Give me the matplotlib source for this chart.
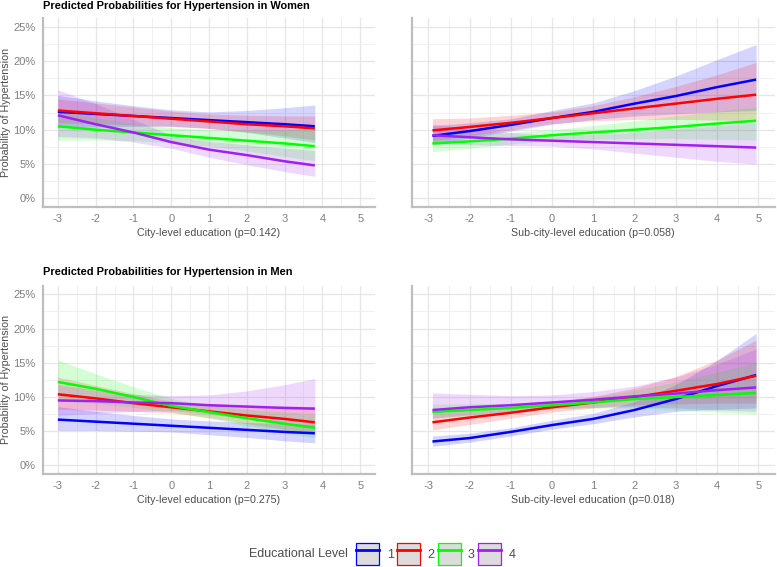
import numpy as np
import matplotlib.pyplot as plt
from matplotlib.patches import Patch
from matplotlib.lines import Line2D
from matplotlib.ticker import MultipleLocator, FuncFormatter
from matplotlib.offsetbox import HPacker

plt.rcParams['font.family'] = ['Liberation Sans', 'DejaVu Sans']

# Eixos x das curvas
x_city = [-3, -2, -1, 0, 1, 2, 3, 3.8]
x_sub = [-2.9, -2, -1, 0, 1, 2, 3, 4, 4.95]

levels = ['1', '2', '3', '4']
colors = ['#0000FF', '#FF0000', '#00FF00', '#A020F0']

# Mulheres - educação da cidade (%)
w_city_fit = [
    [12.6, 12.3, 12.0, 11.7, 11.4, 11.1, 10.8, 10.5],
    [12.8, 12.4, 12.0, 11.6, 11.2, 10.8, 10.5, 10.2],
    [10.5, 10.0, 9.6, 9.2, 8.8, 8.4, 8.0, 7.6],
    [12.1, 10.8, 9.6, 8.2, 7.1, 6.3, 5.4, 4.8],
]
w_city_lo = [
    [10.3, 10.4, 10.5, 10.5, 10.2, 9.6, 8.8, 8.1],
    [11.0, 10.9, 10.7, 10.5, 10.2, 9.7, 9.1, 8.5],
    [8.5, 8.5, 8.4, 8.1, 7.6, 6.9, 6.1, 5.5],
    [9.0, 8.8, 8.2, 7.3, 6.0, 4.9, 3.9, 3.2],
]
w_city_hi = [
    [15.0, 14.2, 13.5, 12.9, 12.6, 12.8, 13.2, 13.6],
    [14.5, 13.9, 13.3, 12.7, 12.3, 12.1, 12.0, 12.0],
    [12.6, 11.7, 10.9, 10.3, 10.0, 9.9, 10.0, 10.1],
    [15.8, 13.8, 11.5, 9.2, 8.3, 7.8, 7.3, 7.0],
]

# Mulheres - educação sub-cidade (%)
w_sub_fit = [
    [9.1, 9.8, 10.7, 11.7, 12.6, 13.8, 14.9, 16.2, 17.3],
    [9.9, 10.4, 11.0, 11.7, 12.4, 13.1, 13.8, 14.5, 15.1],
    [8.0, 8.3, 8.7, 9.2, 9.6, 10.0, 10.4, 10.9, 11.3],
    [9.2, 8.9, 8.6, 8.4, 8.2, 8.0, 7.8, 7.6, 7.4],
]
w_sub_lo = [
    [7.9, 8.8, 9.8, 10.8, 11.5, 12.0, 12.3, 12.6, 12.8],
    [8.4, 9.1, 10.0, 10.9, 11.3, 11.5, 11.5, 11.4, 11.3],
    [6.8, 7.3, 7.9, 8.4, 8.6, 8.7, 8.7, 8.6, 8.5],
    [7.8, 7.8, 7.7, 7.6, 7.2, 6.6, 6.0, 5.4, 5.0],
]
w_sub_hi = [
    [10.6, 11.0, 11.6, 12.8, 13.9, 15.7, 17.8, 20.2, 22.4],
    [11.6, 11.7, 12.1, 12.6, 13.5, 14.8, 16.3, 18.0, 19.8],
    [9.4, 9.4, 9.6, 10.0, 10.6, 11.3, 12.0, 12.7, 13.3],
    [10.8, 10.2, 9.6, 9.2, 9.3, 9.6, 10.1, 10.6, 11.0],
]

# Homens - educação da cidade (%)
m_city_fit = [
    [6.7, 6.4, 6.1, 5.8, 5.5, 5.2, 4.9, 4.7],
    [10.4, 9.8, 9.1, 8.5, 7.9, 7.3, 6.8, 6.3],
    [12.2, 11.2, 10.0, 8.7, 7.8, 6.9, 6.1, 5.5],
    [9.5, 9.4, 9.2, 9.1, 8.8, 8.6, 8.4, 8.3],
]
m_city_lo = [
    [5.1, 5.1, 5.0, 4.9, 4.5, 4.1, 3.6, 3.3],
    [8.2, 8.1, 7.9, 7.7, 7.0, 6.1, 5.3, 4.6],
    [9.4, 9.1, 8.5, 7.8, 6.9, 5.8, 4.8, 4.0],
    [7.3, 7.6, 7.9, 8.0, 7.5, 6.8, 6.0, 5.4],
]
m_city_hi = [
    [8.6, 7.9, 7.3, 6.8, 6.5, 6.3, 6.1, 6.0],
    [12.9, 11.7, 10.5, 9.4, 9.0, 8.8, 8.7, 8.6],
    [15.4, 13.4, 11.5, 9.8, 8.8, 8.2, 7.8, 7.5],
    [11.8, 11.0, 10.4, 10.2, 10.3, 10.9, 11.8, 12.7],
]

# Homens - educação sub-cidade (%)
m_sub_fit = [
    [3.5, 4.0, 4.9, 5.9, 6.8, 8.1, 9.7, 11.6, 13.2],
    [6.3, 7.0, 7.7, 8.5, 9.2, 10.0, 10.9, 11.9, 13.1],
    [7.8, 8.1, 8.4, 8.8, 9.2, 9.7, 10.0, 10.3, 10.6],
    [8.1, 8.5, 8.8, 9.2, 9.6, 10.1, 10.5, 11.0, 11.4],
]
m_sub_lo = [
    [2.8, 3.4, 4.3, 5.3, 6.1, 7.1, 7.9, 8.2, 8.4],
    [5.2, 6.0, 6.9, 7.8, 8.4, 8.9, 9.0, 9.1, 9.1],
    [6.9, 7.3, 7.8, 8.2, 8.4, 8.4, 8.1, 7.8, 7.5],
    [6.9, 7.4, 7.9, 8.3, 8.5, 8.6, 8.4, 8.1, 7.9],
]
m_sub_hi = [
    [4.3, 4.7, 5.5, 6.6, 7.6, 9.3, 11.8, 15.3, 19.3],
    [7.6, 8.1, 8.6, 9.2, 10.1, 11.3, 13.0, 15.4, 18.3],
    [9.0, 9.0, 9.1, 9.4, 10.0, 11.0, 12.2, 13.6, 15.0],
    [10.6, 10.4, 10.2, 10.3, 10.8, 11.6, 12.9, 14.8, 17.0],
]

xlabels = ['City-level education (p=0.142)', 'Sub-city-level education (p=0.058)',
           'City-level education (p=0.275)', 'Sub-city-level education (p=0.018)']

fig = plt.figure(figsize=(7.77, 5.67), dpi=100)
axes = [
    fig.add_axes([0.055, 0.635, 0.428, 0.333]),
    fig.add_axes([0.530, 0.635, 0.467, 0.333]),
    fig.add_axes([0.055, 0.164, 0.428, 0.332]),
    fig.add_axes([0.530, 0.164, 0.467, 0.332]),
]
panels = [
    (x_city, w_city_fit, w_city_lo, w_city_hi),
    (x_sub, w_sub_fit, w_sub_lo, w_sub_hi),
    (x_city, m_city_fit, m_city_lo, m_city_hi),
    (x_sub, m_sub_fit, m_sub_lo, m_sub_hi),
]

for i, (ax, (xs, fit, lo, hi)) in enumerate(zip(axes, panels)):
    for k in range(4):
        ax.fill_between(xs, lo[k], hi[k], color=colors[k], alpha=0.17, lw=0)
    for k in range(4):
        ax.plot(xs, fit[k], color=colors[k], lw=1.8, solid_capstyle='butt')
    ax.set_xlim(-3.4, 5.4)
    ax.set_ylim(-1.25, 26.25)
    ax.xaxis.set_major_locator(MultipleLocator(1))
    ax.xaxis.set_minor_locator(MultipleLocator(0.5))
    ax.yaxis.set_major_locator(MultipleLocator(5))
    ax.yaxis.set_minor_locator(MultipleLocator(2.5))
    ax.grid(True, which='major', color='#E6E6E6', lw=0.9)
    ax.grid(True, which='minor', color='#F0F0F0', lw=0.7)
    ax.set_axisbelow(True)
    for s in ['top', 'right']:
        ax.spines[s].set_visible(False)
    for s in ['left', 'bottom']:
        ax.spines[s].set_color('#BEBEBE')
        ax.spines[s].set_linewidth(1.6)
    ax.tick_params(which='both', length=0, labelsize=8, labelcolor='#7F7F7F', pad=5)
    ax.xaxis.set_major_formatter(FuncFormatter(lambda v, p: f'{v:.0f}'))
    ax.set_xlabel(xlabels[i], fontsize=7.7, color='#4D4D4D', labelpad=3)
    if i % 2 == 0:
        ax.yaxis.set_major_formatter(FuncFormatter(lambda v, p: f'{v:.0f}%'))
        ax.set_ylabel('Probability of Hypertension', fontsize=7.7, color='#4D4D4D')
        ax.yaxis.set_label_coords(-0.095, 0.5)
    else:
        ax.set_yticklabels([])

fig.text(0.055, 0.999, 'Predicted Probabilities for Hypertension in Women',
         fontsize=7.9, fontweight='bold', va='top', ha='left')
fig.text(0.055, 0.529, 'Predicted Probabilities for Hypertension in Men',
         fontsize=7.9, fontweight='bold', va='top', ha='left')

handles = [(Patch(facecolor='#DCDCDC', edgecolor=c, lw=0.9),
            Line2D([], [], color=c, lw=2)) for c in colors]
leg = fig.legend(handles, levels, loc='center', bbox_to_anchor=(0.492, 0.023), ncol=4,
                 frameon=False, fontsize=9, handlelength=1.84, handleheight=2.33,
                 columnspacing=0.25, handletextpad=0.6,
                 title='Educational Level', title_fontsize=9)
# título à esquerda das entradas
title_box = leg._legend_title_box
handle_box = leg._legend_handle_box
leg._legend_box._children = [HPacker(pad=0, sep=6, children=[title_box, handle_box], align='center')]
for t in leg.get_texts():
    t.set_color('#4D4D4D')
leg.get_title().set_color('#4D4D4D')

fig.savefig('out.png', dpi=100)
